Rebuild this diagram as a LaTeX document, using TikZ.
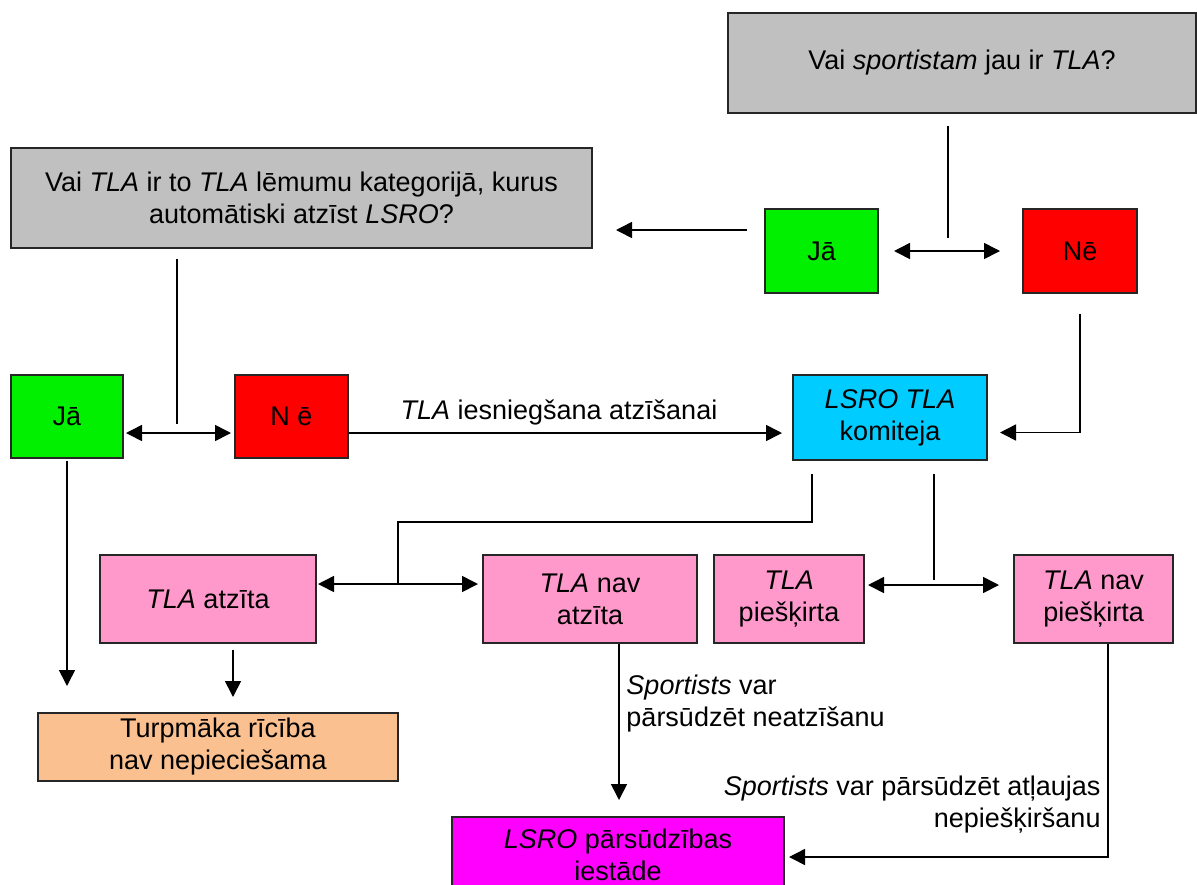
\documentclass[tikz,border=0pt]{standalone}
\usepackage{fontspec}
\setmainfont{Liberation Sans}
\usepackage{tikz}
\usepackage{xcolor}
\usetikzlibrary{shapes, arrows.meta, positioning}

\definecolor{askgray}{HTML}{C0C0C0}
\definecolor{yesgreen}{HTML}{00F000}
\definecolor{nored}{HTML}{FF0000}
\definecolor{komcyan}{HTML}{00CCFF}
\definecolor{respink}{HTML}{FF99CC}
\definecolor{doneorange}{HTML}{FAC090}
\definecolor{appealmag}{HTML}{FF00FF}

\begin{document}
\begin{tikzpicture}[x=0.5pt, y=-0.5pt, line width=0.8pt,
    every node/.style={font=\fontsize{13.5}{16}\selectfont},
    box/.style={draw=black!85, line width=1pt, inner sep=1pt, align=center},
    arr/.style={-{Triangle[length=8pt,width=8pt]}},
    twoway/.style={{Triangle[length=8pt,width=8pt]}-{Triangle[length=8pt,width=8pt]}}]
      \useasboundingbox (0,0) rectangle (1197,884);

      % questions
      \node[box, fill=askgray, minimum width=234pt, minimum height=50pt] at (962,63) (q1) {Vai \textit{sportistam} jau ir \textit{TLA}?};
      \node[box, fill=askgray, minimum width=290.5pt, minimum height=50pt] at (301.5,198) (q2) {Vai \textit{TLA} ir to \textit{TLA} lēmumu kategorijā, kurus\\automātiski atzīst \textit{LSRO}?};

      % answers
      \node[box, fill=yesgreen, minimum width=56.5pt, minimum height=42pt] at (821.5,251) (ja1) {Jā};
      \node[box, fill=nored, minimum width=57pt, minimum height=42pt] at (1080,251) (ne1) {Nē};
      \node[box, fill=yesgreen, minimum width=56pt, minimum height=41.5pt] at (67,416.5) (ja2) {Jā};
      \node[box, fill=nored, minimum width=56.5pt, minimum height=41.5pt] at (291.5,416.5) (ne2) {N ē};

      \node[box, fill=komcyan, minimum width=97pt, minimum height=42.5pt] at (890,417.5) (kom) {\textit{LSRO TLA}\\komiteja};

      % decisions
      \node[box, fill=respink, minimum width=108pt, minimum height=44pt] at (208,599) (atz) {\textit{TLA} atzīta};
      \node[box, fill=respink, minimum width=107pt, minimum height=44pt] at (590,599) (natz) {\textit{TLA} nav\\atzīta};
      \node[box, fill=respink, minimum width=75pt, minimum height=44pt] at (789,599) (pie) {\textit{TLA}\\piešķirta};
      \node[box, fill=respink, minimum width=79.5pt, minimum height=44pt] at (1093.5,599) (npie) {\textit{TLA} nav\\piešķirta};

      \node[box, fill=doneorange, minimum width=180pt, minimum height=34pt] at (218,747) (turp) {Turpmāka rīcība\\nav nepieciešama};
      \node[box, fill=appealmag, minimum width=166pt, minimum height=38pt] at (618,855) (lsro) {\textit{LSRO} pārsūdzības\\iestāde};

      \coordinate (j1) at (948,251);
      \coordinate (j2) at (177,433);
      \coordinate (j3) at (398,584);
      \coordinate (j4) at (934,585);

      % top question
      \draw[shorten <=6pt, shorten >=6.5pt] (q1.south -| j1) -- (j1);
      \draw[twoway, shorten <=7.5pt, shorten >=11pt] (ja1.east) -- (ne1.west);
      \draw[arr, shorten <=8.5pt, shorten >=11.5pt] ([yshift=10.5pt]ja1.west) -- ([yshift=10.5pt]ja1.west -| q2.east);
      \draw[arr, shorten <=10pt, shorten >=6pt] (ne1.south) |- ([yshift=-7.5pt]kom.east);

      % second question
      \draw[shorten <=5pt, shorten >=4.5pt] (q2.south -| j2) -- (j2);
      \draw[twoway, shorten <=1pt, shorten >=1.5pt] (ja2.east |- j2) -- (ne2.west |- j2);
      \draw[arr, shorten >=5pt] (ne2.east |- j2) -- (kom.west |- j2) node[above, pos=0.474]{\textit{TLA} iesniegšana atzīšanai};
      \draw[arr, shorten <=1pt, shorten >=13pt] (ja2.south) -- (ja2.south |- turp.north);

      % committee
      \draw[shorten <=6.5pt] ([xshift=-39pt]kom.south) -- ++(0,61) -| (j3);
      \draw[twoway, shorten <=0.5pt, shorten >=2pt] (atz.east |- j3) -- (natz.west |- j3);
      \draw[shorten <=6.5pt, shorten >=2.5pt] (kom.south -| j4) -- (j4);
      \draw[twoway, shorten <=1.5pt, shorten >=7pt] (pie.east |- j4) -- (npie.west |- j4);

      % outcomes
      \draw[arr, shorten <=3pt, shorten >=7.5pt] ([xshift=12.5pt]atz.south) -- ([xshift=12.5pt]atz.south |- turp.north);
      \draw[arr, shorten >=8pt] ([xshift=14.5pt]natz.south) -- ([xshift=14.5pt]natz.south |- lsro.north)
        node[right, pos=0.347, align=left]{\textit{Sportists} var\\pārsūdzēt neatzīšanu};
      \draw[arr, shorten >=2pt] ([xshift=7.25pt]npie.south) |- ([yshift=-1pt]lsro.east)
        node[left, pos=0.378, align=right]{\textit{Sportists} var pārsūdzēt atļaujas\\nepiešķiršanu};
    \end{tikzpicture}
\end{document}
